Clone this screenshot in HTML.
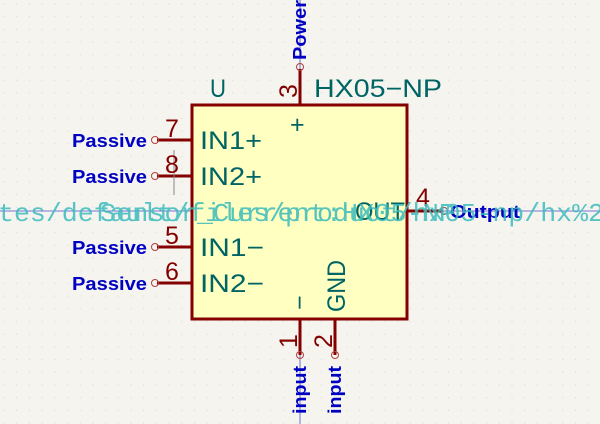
<!DOCTYPE html>
<html><head><style>body{margin:0;background:#f5f4ef}svg{display:block}</style></head><body>
<svg width="600" height="424" viewBox="0 0 600 424" xmlns="http://www.w3.org/2000/svg">
<defs><pattern id="g" width="12.7" height="12.7" patternUnits="userSpaceOnUse" x="3" y="3"><circle cx="1" cy="1" r="0.6" fill="#d8d8d0"/></pattern></defs>
<rect width="600" height="424" fill="#f5f4ef"/>
<rect width="600" height="424" fill="url(#g)"/>
<g stroke="#4a4acc" stroke-width="0.8"><line x1="300" y1="0" x2="300" y2="424"/><line x1="0" y1="211" x2="600" y2="211"/></g>
<rect x="192" y="105" width="215" height="214" fill="#ffffc2" stroke="#840000" stroke-width="3"/>
<g stroke="#840000" stroke-width="3">
<line x1="157" y1="140" x2="192" y2="140"/><line x1="157" y1="176" x2="192" y2="176"/>
<line x1="157" y1="247" x2="192" y2="247"/><line x1="157" y1="283" x2="192" y2="283"/>
<line x1="300" y1="69" x2="300" y2="105"/><line x1="300" y1="319" x2="300" y2="355"/>
<line x1="335" y1="319" x2="335" y2="355"/><line x1="407" y1="211" x2="443" y2="211"/>
</g>
<line x1="174" y1="150" x2="174" y2="195" stroke="#888" stroke-width="1"/>
<g fill="none" stroke="#b04040" stroke-width="1"><circle cx="155" cy="140" r="3.5"/><circle cx="155" cy="176" r="3.5"/><circle cx="155" cy="247" r="3.5"/><circle cx="155" cy="283" r="3.5"/><circle cx="300" cy="67" r="3.5"/><circle cx="300" cy="355" r="3.5"/><circle cx="335" cy="355" r="3.5"/><circle cx="444" cy="211" r="3.5"/></g>
<g font-family="Liberation Sans, sans-serif" font-size="25" fill="#840000">
<text x="165" y="137">7</text><text x="165" y="173">8</text><text x="165" y="244">5</text><text x="165" y="280">6</text>
<text x="416" y="206">4</text>
<text transform="translate(297,98) rotate(-90)">3</text>
<text transform="translate(297,348) rotate(-90)">1</text>
<text transform="translate(332,348) rotate(-90)">2</text>
</g>
<g font-family="Liberation Sans, sans-serif" font-size="25" fill="#006464">
<text x="200" y="149" textLength="62" lengthAdjust="spacingAndGlyphs">IN1+</text><text x="200" y="185" textLength="62" lengthAdjust="spacingAndGlyphs">IN2+</text>
<text x="200" y="256" textLength="64" lengthAdjust="spacingAndGlyphs">IN1−</text><text x="200" y="292" textLength="64" lengthAdjust="spacingAndGlyphs">IN2−</text>
<text x="355" y="220" textLength="50" lengthAdjust="spacingAndGlyphs">OUT</text>
<text x="290" y="133">+</text>
<text transform="translate(308,310) rotate(-90)">−</text>
<text transform="translate(345,312) rotate(-90)" textLength="52" lengthAdjust="spacingAndGlyphs">GND</text>
<text x="210" y="97" textLength="16" lengthAdjust="spacingAndGlyphs">U</text>
<text x="314" y="97" textLength="128" lengthAdjust="spacingAndGlyphs">HX05−NP</text>
</g>
<g font-family="Liberation Sans, sans-serif" font-size="18" font-weight="bold" fill="#0000c2">
<text x="72" y="147" textLength="75" lengthAdjust="spacingAndGlyphs">Passive</text><text x="72" y="183" textLength="75" lengthAdjust="spacingAndGlyphs">Passive</text>
<text x="72" y="254" textLength="75" lengthAdjust="spacingAndGlyphs">Passive</text><text x="72" y="290" textLength="75" lengthAdjust="spacingAndGlyphs">Passive</text>
<text x="450" y="218" textLength="70" lengthAdjust="spacingAndGlyphs">Output</text>
<text transform="translate(306,60) rotate(-90)" textLength="60" lengthAdjust="spacingAndGlyphs">Power</text>
<text transform="translate(306,414) rotate(-90)" textLength="48" lengthAdjust="spacingAndGlyphs">input</text>
<text transform="translate(341,414) rotate(-90)" textLength="48" lengthAdjust="spacingAndGlyphs">input</text>
</g>
<g font-family="Liberation Mono, monospace" font-size="26" fill="#3cbcbc" opacity="0.85">
<text x="-2" y="221" textLength="606" lengthAdjust="spacingAndGlyphs">tes/default/files/product/hx05-np/hx%2</text>
<text x="100" y="221" textLength="355" lengthAdjust="spacingAndGlyphs">Sensor_Current:HX05-NP</text>
</g>
</svg>
</body></html>
